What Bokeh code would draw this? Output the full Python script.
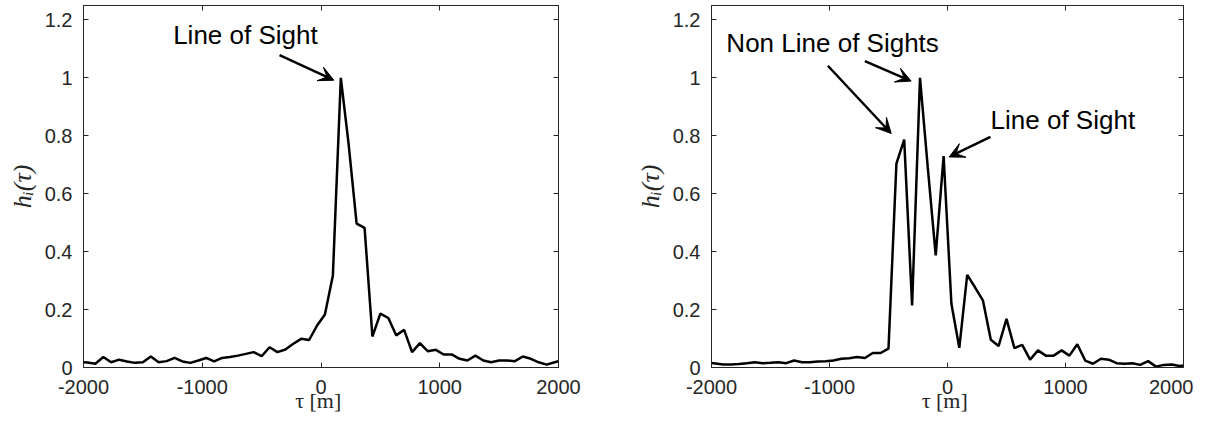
from bokeh.plotting import figure
from bokeh.layouts import row
from bokeh.models import (Range1d, FixedTicker, LinearAxis, Label, Arrow,
                          VeeHead, CustomJSTickFormatter)
from bokeh.embed import file_html
from bokeh.resources import INLINE

# ---------------- data ----------------
tau = [-2033, -1967, -1900, -1833, -1767, -1700, -1633, -1567, -1500, -1433,
       -1367, -1300, -1233, -1167, -1100, -1033, -967, -900, -833, -767,
       -700, -633, -567, -500, -433, -367, -300, -233, -167, -100,
       -33, 33, 100, 167, 233, 300, 367, 433, 500, 567,
       633, 700, 767, 833, 900, 967, 1033, 1100, 1167, 1233,
       1300, 1367, 1433, 1500, 1567, 1633, 1700, 1767, 1833, 1900,
       1967, 2033]

h_left = [0.019, 0.017, 0.013, 0.036, 0.018, 0.027, 0.021, 0.016, 0.018, 0.038,
          0.018, 0.022, 0.033, 0.021, 0.016, 0.024, 0.033, 0.021, 0.033, 0.036,
          0.041, 0.047, 0.053, 0.039, 0.070, 0.053, 0.062, 0.082, 0.099, 0.095,
          0.145, 0.183, 0.318, 1.000, 0.770, 0.497, 0.482, 0.107, 0.186, 0.171,
          0.111, 0.130, 0.053, 0.084, 0.056, 0.061, 0.045, 0.045, 0.030, 0.024,
          0.041, 0.024, 0.018, 0.024, 0.024, 0.022, 0.038, 0.030, 0.018, 0.010,
          0.018, 0.025]

h_right = [0.016, 0.014, 0.010, 0.010, 0.012, 0.015, 0.018, 0.015, 0.016, 0.018,
           0.015, 0.024, 0.018, 0.018, 0.021, 0.022, 0.024, 0.030, 0.032, 0.036,
           0.033, 0.050, 0.050, 0.065, 0.704, 0.787, 0.214, 1.000, 0.690, 0.387,
           0.730, 0.220, 0.068, 0.320, 0.277, 0.232, 0.096, 0.074, 0.168, 0.067,
           0.078, 0.027, 0.059, 0.041, 0.041, 0.059, 0.041, 0.080, 0.024, 0.013,
           0.030, 0.027, 0.015, 0.013, 0.015, 0.009, 0.022, 0.003, 0.009, 0.010,
           0.005, 0.008]

x_ticks = [-2000, -1000, 0, 1000, 2000]
x_tick_labels = ["-2000", "-1000", "0", "1000", "2000"]
y_ticks = [0, 0.2, 0.4, 0.6, 0.8, 1, 1.2]
y_tick_labels = ["0", "0.2", "0.4", "0.6", "0.8", "1", "1.2"]

x_label = "τ  [m]"
y_label = "hᵢ(τ)"

# annotations: (text, x, y)
left_texts = [("Line of Sight", -1245, 1.147)]
left_arrows = [(-349, 1.079, 108, 0.992)]
right_texts = [("Non Line of Sights", -1874, 1.119), ("Line of Sight", 365, 0.855)]
right_arrows = [(-1014, 1.042, -477, 0.808),
                (-700, 1.058, -308, 0.989),
                (364, 0.796, 14, 0.727)]

AX = "#262626"


def make_fig(width, border_left, border_right, h, texts, arrows):
    p = figure(width=width, height=416,
               x_range=Range1d(-2000, 2000), y_range=Range1d(0, 1.25),
               output_backend="svg", toolbar_location=None, tools="",
               min_border_left=border_left, min_border_right=border_right,
               min_border_top=5, min_border_bottom=49)
    p.grid.visible = False
    p.outline_line_color = AX
    p.outline_line_width = 1
    p.background_fill_color = "white"
    p.border_fill_color = "white"

    p.line(tau, h, line_color="black", line_width=2.5)

    xa = p.xaxis[0]
    ya = p.yaxis[0]
    xa.ticker = FixedTicker(ticks=x_ticks)
    ya.ticker = FixedTicker(ticks=y_ticks)
    xa.major_label_overrides = dict(zip(x_ticks, x_tick_labels))
    ya.major_label_overrides = dict(zip(y_ticks, y_tick_labels))
    for ax in (xa, ya):
        ax.major_tick_in = 5
        ax.major_tick_out = 0
        ax.minor_tick_line_color = None
        ax.axis_line_color = AX
        ax.major_tick_line_color = AX
        ax.major_label_text_font = "Liberation Sans"
        ax.major_label_text_font_size = "20px"
        ax.major_label_text_color = AX
    xa.major_label_standoff = 12
    ya.major_label_standoff = 11
    ya.axis_label = y_label
    ya.axis_label_text_font = "Liberation Serif"
    ya.axis_label_text_font_size = "26px"
    ya.axis_label_text_color = AX
    ya.axis_label_text_font_style = "italic"
    ya.axis_label_standoff = 5

    xa.axis_label = x_label
    xa.axis_label_text_font = "Liberation Serif"
    xa.axis_label_text_font_size = "22px"
    xa.axis_label_text_color = AX
    xa.axis_label_text_font_style = "normal"
    xa.axis_label_standoff = -9

    for loc, ticks in (("above", x_ticks), ("right", y_ticks)):
        ax = LinearAxis(ticker=FixedTicker(ticks=ticks),
                        formatter=CustomJSTickFormatter(code="return ''"),
                        major_label_text_font_size="0px",
                        major_label_standoff=0,
                        major_tick_in=5, major_tick_out=0,
                        minor_tick_line_color=None,
                        axis_line_color=AX, major_tick_line_color=AX)
        p.add_layout(ax, loc)

    for t, x, y in texts:
        p.add_layout(Label(x=x, y=y, text=t, text_font="Liberation Sans",
                           text_font_size="26px", text_color="black",
                           text_align="left", text_baseline="alphabetic"))
    for xs, ys, xe, ye in arrows:
        p.add_layout(Arrow(end=VeeHead(size=15, fill_color="black",
                                       line_color="black", line_width=1),
                           x_start=xs, y_start=ys, x_end=xe, y_end=ye,
                           line_width=2.5, line_color="black"))
    return p


p1 = make_fig(632, 83, 74, h_left, left_texts, left_arrows)
p2 = make_fig(561, 75, 10, h_right, right_texts, right_arrows)
layout = row(p1, p2)

open("out.html", "w").write(file_html(layout, INLINE))
